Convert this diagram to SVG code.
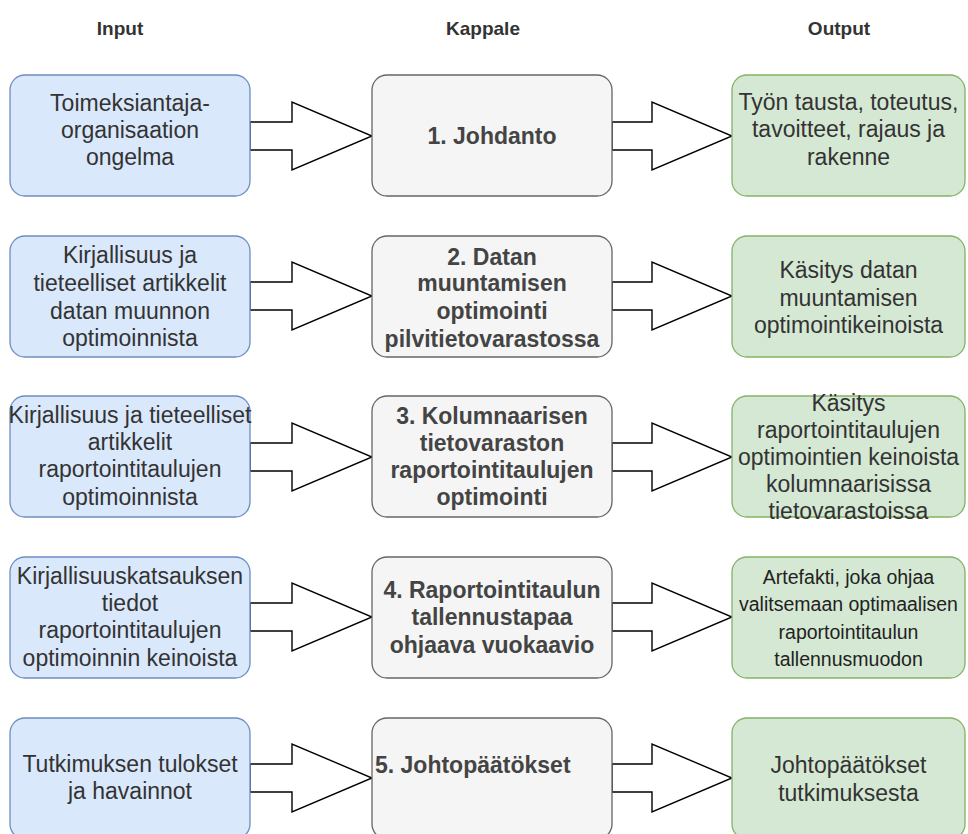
<svg xmlns="http://www.w3.org/2000/svg" width="968" height="834" viewBox="0 0 968 834">
  <style>
    text { font-family: "Liberation Sans", Arial, Helvetica, sans-serif; text-anchor: middle; }
    .hdr { font-size: 19px; font-weight: bold; fill: #333333; }
    .in rect { fill: #dae8fc; stroke: #6c8ebf; stroke-width: 1.3; }
    .ch rect { fill: #f5f5f5; stroke: #666666; stroke-width: 1.3; }
    .out rect { fill: #d5e8d4; stroke: #82b366; stroke-width: 1.3; }
    .in text, .out text { font-size: 23px; fill: #333333; }
    .ch text { font-size: 23px; font-weight: bold; fill: #444444; }
    .out text.small { font-size: 19.5px; fill: #222222; }
    .arrow { fill: #ffffff; stroke: #000000; stroke-width: 1.4; stroke-linejoin: miter; }
  </style>
  <defs>
    <!-- block arrow, origin at the tail centre, pointing right -->
    <polygon id="blk" points="0,-14 42,-14 42,-34 122,0 42,34 42,14 0,14"/>
    <polygon id="blk2" points="0,-14 40,-14 40,-34 120,0 40,34 40,14 0,14"/>
  </defs>

  <rect width="968" height="834" fill="#ffffff"/>

  <!-- column headings -->
  <text class="hdr" x="120" y="35">Input</text>
  <text class="hdr" x="483" y="35">Kappale</text>
  <text class="hdr" x="839" y="35">Output</text>

  <!-- connectors -->
  <g id="connectors">
    <use href="#blk" class="arrow" x="250" y="136"/>
    <use href="#blk2" class="arrow" x="612" y="136"/>
    <use href="#blk" class="arrow" x="250" y="296"/>
    <use href="#blk2" class="arrow" x="612" y="296"/>
    <use href="#blk" class="arrow" x="250" y="457"/>
    <use href="#blk2" class="arrow" x="612" y="457"/>
    <use href="#blk" class="arrow" x="250" y="617"/>
    <use href="#blk2" class="arrow" x="612" y="617"/>
    <use href="#blk" class="arrow" x="250" y="778"/>
    <use href="#blk2" class="arrow" x="612" y="778"/>
  </g>

  <!-- row 1 -->
  <g id="in1" class="in">
    <rect x="10" y="75" width="240" height="121" rx="15"/>
    <text x="130" y="111">Toimeksiantaja-</text>
    <text x="130" y="138">organisaation</text>
    <text x="130" y="165">ongelma</text>
  </g>
  <g id="ch1" class="ch">
    <rect x="372" y="75" width="240" height="121" rx="15"/>
    <text x="492" y="144">1. Johdanto</text>
  </g>
  <g id="out1" class="out">
    <rect x="732" y="75" width="233" height="121" rx="15"/>
    <text x="848.5" y="110">Työn tausta, toteutus,</text>
    <text x="848.5" y="137">tavoitteet, rajaus ja</text>
    <text x="848.5" y="165">rakenne</text>
  </g>

  <!-- row 2 -->
  <g id="in2" class="in">
    <rect x="10" y="236" width="240" height="121" rx="15"/>
    <text x="130" y="263">Kirjallisuus ja</text>
    <text x="130" y="291">tieteelliset artikkelit</text>
    <text x="130" y="319">datan muunnon</text>
    <text x="130" y="346">optimoinnista</text>
  </g>
  <g id="ch2" class="ch">
    <rect x="372" y="236" width="240" height="121" rx="15"/>
    <text x="492" y="265">2. Datan</text>
    <text x="492" y="291">muuntamisen</text>
    <text x="492" y="319">optimointi</text>
    <text x="492" y="347">pilvitietovarastossa</text>
  </g>
  <g id="out2" class="out">
    <rect x="732" y="236" width="233" height="121" rx="15"/>
    <text x="848.5" y="278">Käsitys datan</text>
    <text x="848.5" y="306">muuntamisen</text>
    <text x="848.5" y="333">optimointikeinoista</text>
  </g>

  <!-- row 3 -->
  <g id="in3" class="in">
    <rect x="10" y="396" width="240" height="121" rx="15"/>
    <text x="130" y="423">Kirjallisuus ja tieteelliset</text>
    <text x="130" y="450">artikkelit</text>
    <text x="130" y="477">raportointitaulujen</text>
    <text x="130" y="505">optimoinnista</text>
  </g>
  <g id="ch3" class="ch">
    <rect x="372" y="396" width="240" height="121" rx="15"/>
    <text x="492" y="424">3. Kolumnaarisen</text>
    <text x="492" y="451">tietovaraston</text>
    <text x="492" y="478">raportointitaulujen</text>
    <text x="492" y="505">optimointi</text>
  </g>
  <g id="out3" class="out">
    <rect x="732" y="396" width="233" height="121" rx="15"/>
    <text x="848.5" y="411">Käsitys</text>
    <text x="848.5" y="438">raportointitaulujen</text>
    <text x="848.5" y="465">optimointien keinoista</text>
    <text x="848.5" y="492">kolumnaarisissa</text>
    <text x="848.5" y="519">tietovarastoissa</text>
  </g>

  <!-- row 4 -->
  <g id="in4" class="in">
    <rect x="10" y="557" width="240" height="121" rx="15"/>
    <text x="130" y="584">Kirjallisuuskatsauksen</text>
    <text x="130" y="611">tiedot</text>
    <text x="130" y="638">raportointitaulujen</text>
    <text x="130" y="666">optimoinnin keinoista</text>
  </g>
  <g id="ch4" class="ch">
    <rect x="372" y="557" width="240" height="121" rx="15"/>
    <text x="492" y="598">4. Raportointitaulun</text>
    <text x="492" y="625">tallennustapaa</text>
    <text x="492" y="653">ohjaava vuokaavio</text>
  </g>
  <g id="out4" class="out">
    <rect x="732" y="557" width="233" height="121" rx="15"/>
    <text class="small" x="848.5" y="584">Artefakti, joka ohjaa</text>
    <text class="small" x="848.5" y="611">valitsemaan optimaalisen</text>
    <text class="small" x="848.5" y="639">raportointitaulun</text>
    <text class="small" x="848.5" y="666">tallennusmuodon</text>
  </g>

  <!-- row 5 -->
  <g id="in5" class="in">
    <rect x="10" y="718" width="240" height="121" rx="15"/>
    <text x="130" y="772">Tutkimuksen tulokset</text>
    <text x="130" y="799">ja havainnot</text>
  </g>
  <g id="ch5" class="ch">
    <rect x="372" y="718" width="240" height="121" rx="15"/>
    <text x="375" y="773" style="text-anchor:start">5. Johtopäätökset</text>
  </g>
  <g id="out5" class="out">
    <rect x="732" y="718" width="233" height="121" rx="15"/>
    <text x="848.5" y="773">Johtopäätökset</text>
    <text x="848.5" y="801">tutkimuksesta</text>
  </g>
</svg>
